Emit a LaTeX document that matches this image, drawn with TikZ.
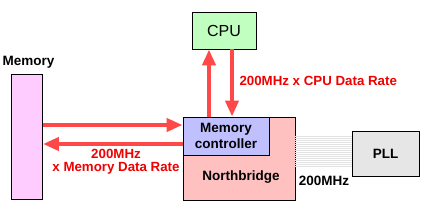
\documentclass[tikz,border=0pt]{standalone}
\usepackage{fontspec}
\setmainfont{Liberation Sans}
\usetikzlibrary{arrows.meta,positioning,calc}
\definecolor{memfill}{HTML}{FFCCFF}
\definecolor{cpufill}{HTML}{C0FFC0}
\definecolor{nbfill}{HTML}{FFC0C0}
\definecolor{mcfill}{HTML}{C0C0FF}
\definecolor{pllfill}{HTML}{E6E6E6}
\definecolor{busred}{HTML}{FF4848}
\definecolor{labelred}{HTML}{F00000}
\definecolor{clockgray}{HTML}{E2E2E2}

\begin{document}
\begin{tikzpicture}[x=1pt, y=-1pt,
    block/.style={draw=black, line width=0.9pt, inner sep=0pt, align=center, font=\fontsize{13.5}{16}\selectfont\bfseries},
    bus/.style={draw=busred, line width=4pt, -{Triangle[length=16pt, width=13pt]}},
    rate/.style={text=labelred, align=center, font=\fontsize{13.3}{13}\selectfont\bfseries},
]
\useasboundingbox (0,0) rectangle (429,213);

\node[block, fill=memfill, minimum width=31pt, minimum height=125pt] (mem) at (27,136.5) {};
\node[font=\fontsize{13.5}{16}\selectfont\bfseries] (memlabel) at (28.5,62) {Memory};
\node[block, fill=cpufill, minimum width=64pt, minimum height=37pt, font=\fontsize{16}{18}\selectfont] (cpu) at (224,30.5) {CPU};
\node[block, fill=nbfill, minimum width=112pt, minimum height=83pt] (nb) at (239,158.5) {};
\node[font=\fontsize{13.5}{16}\selectfont\bfseries] (nblabel) at (241,177) {Northbridge};
\node[block, fill=mcfill, minimum width=86pt, minimum height=38pt] (mc) at (226,136) {Memory\\controller};
\node[block, fill=pllfill, minimum width=67pt, minimum height=45pt] (pll) at (385.5,153.5) {PLL};

% clock lines from the PLL
\foreach \y in {136,138,...,166}
    \draw[clockgray, line width=0.8pt] (nb.east |- 0,\y) -- (pll.west |- 0,\y);
\node[font=\fontsize{13.5}{16}\selectfont\bfseries] (clk) at (324,181) {200MHz};

% CPU bus
\coordinate (cpuup) at (209,0);
\coordinate (cpudown) at (232,0);
\draw[bus] (mc.north -| cpuup) -- (cpu.south -| cpuup);
\draw[bus] (cpu.south -| cpudown) -- (mc.north -| cpudown);
\node[rate, anchor=west] (cpurate) at (236,81) {200MHz x CPU Data Rate};

% memory bus
\coordinate (memin) at (0,125);
\coordinate (memout) at (0,144);
\draw[bus] (mem.east |- memin) -- (mc.west |- memin);
\draw[bus] (mc.west |- memout) -- (mem.east |- memout);
\node[rate] (memrate) at (116,162) {200MHz\\x Memory Data Rate};
\end{tikzpicture}
\end{document}
